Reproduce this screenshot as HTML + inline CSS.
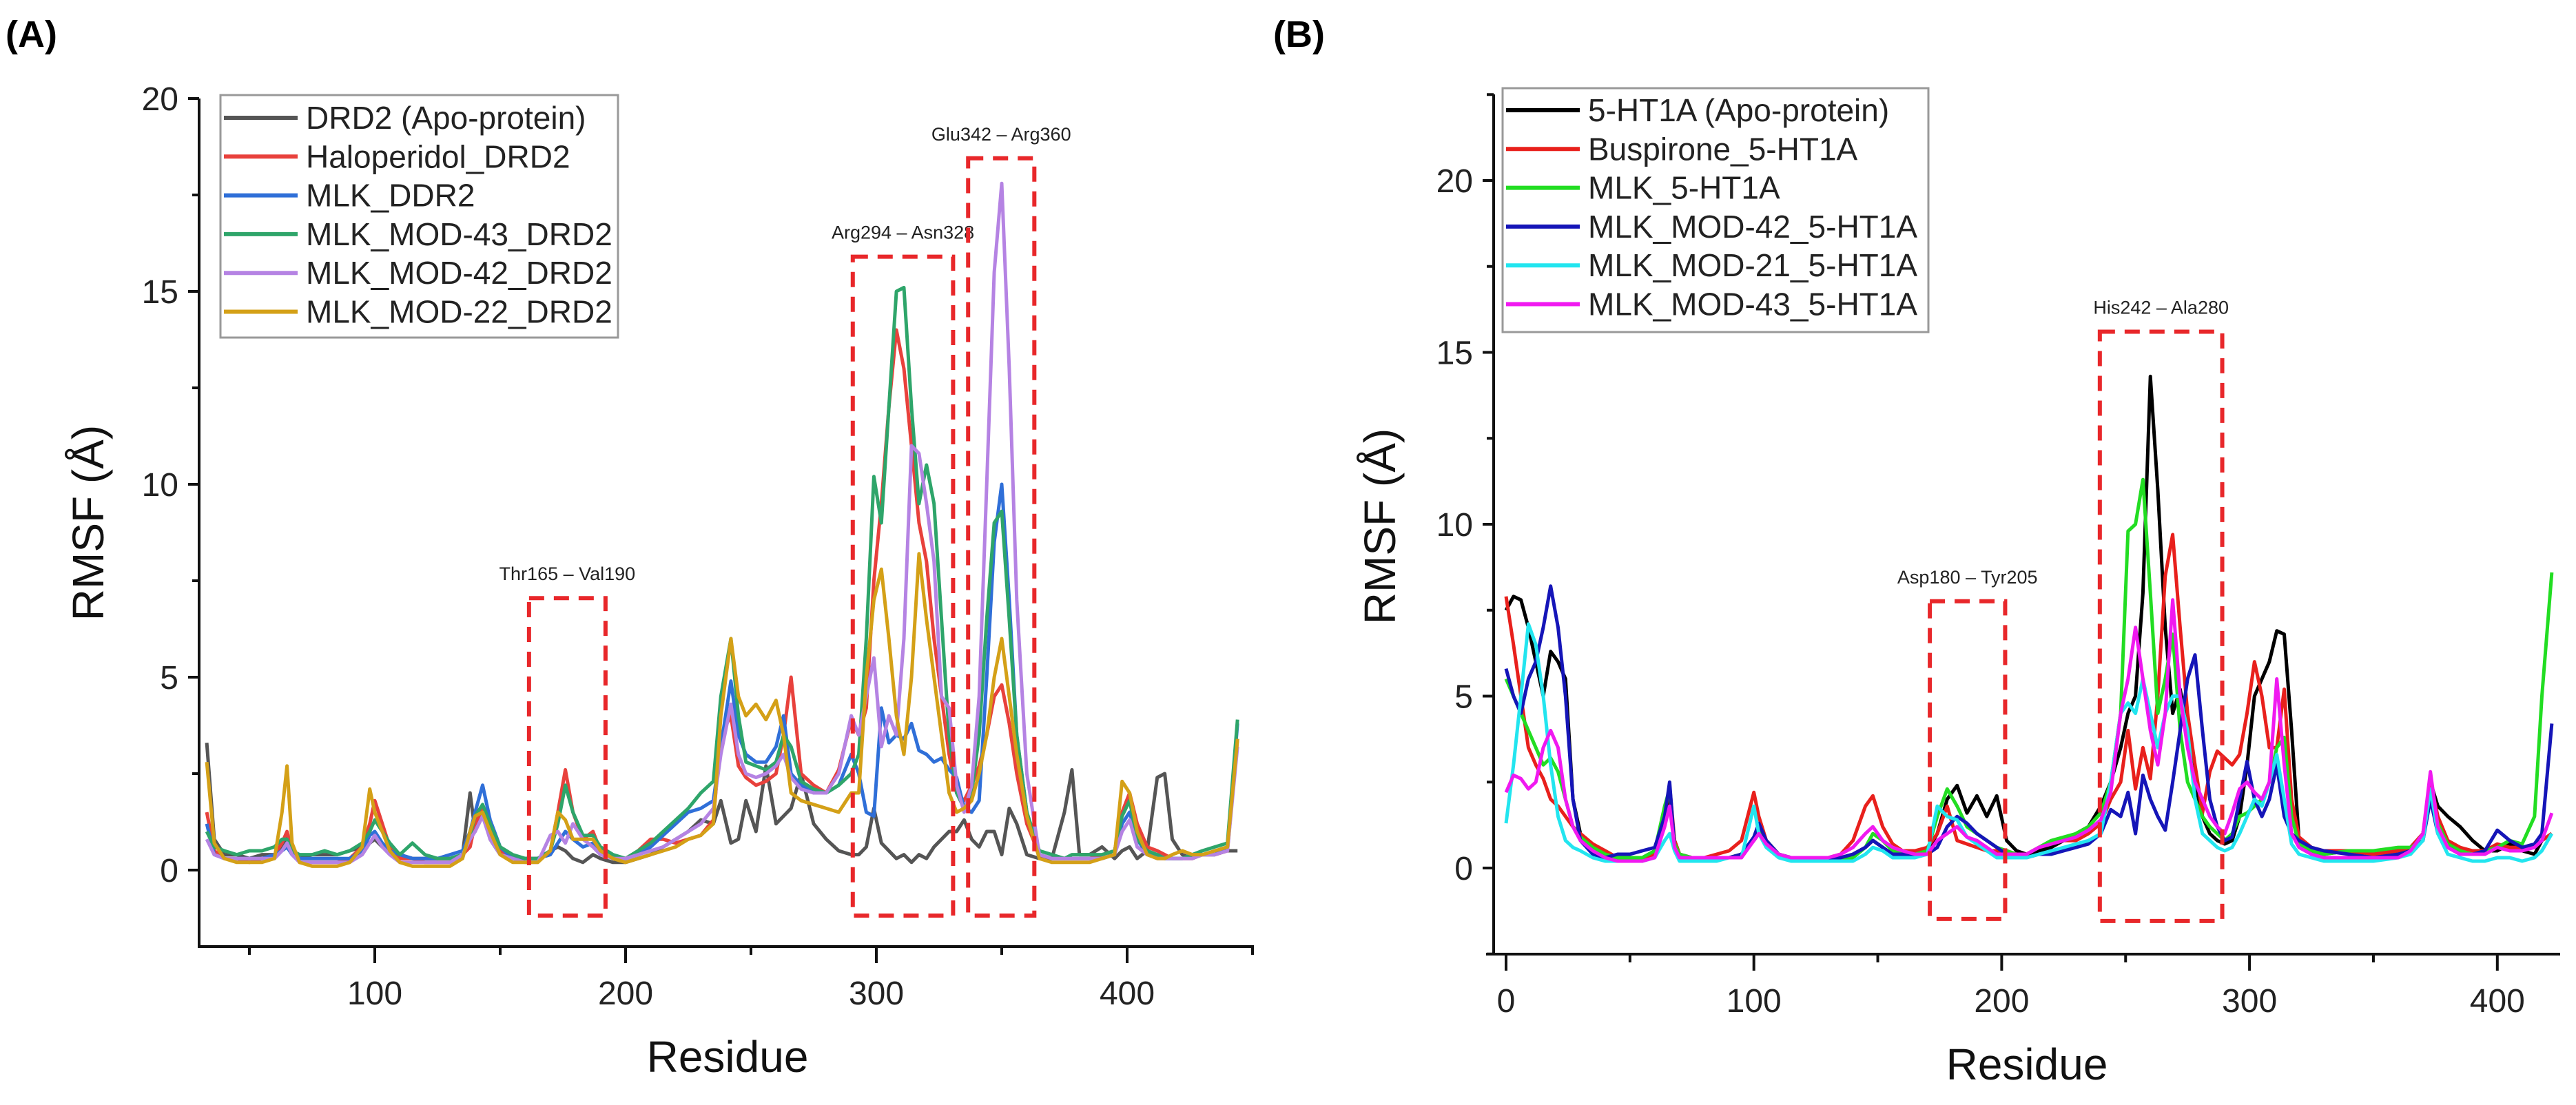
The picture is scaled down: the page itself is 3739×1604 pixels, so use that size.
<!DOCTYPE html>
<html><head><meta charset="utf-8">
<style>
html,body{margin:0;padding:0;background:#fff;}
svg{display:block;font-family:"Liberation Sans",Arial,sans-serif;}
</style></head>
<body>
<svg id="fig" width="3739" height="1604" viewBox="0 0 3739 1604" xmlns="http://www.w3.org/2000/svg">
<rect x="0" y="0" width="3739" height="1604" fill="#fff"/>
<text x="8" y="68" font-size="54" font-weight="bold">(A)</text>
<text x="1848" y="68" font-size="54" font-weight="bold">(B)</text>
<g id="chartA"></g>
<g id="chartB"></g>
</svg>
<script>
// ---------- Panel A data ----------
const resA = [33,36,40,45,50,55,60,63,65,67,70,75,80,85,90,95,98,100,103,106,110,115,120,125,130,135,138,140,143,146,150,155,160,165,170,173,176,179,183,187,190,195,200,205,210,215,220,225,230,235,238,242,245,248,252,256,260,263,266,270,275,280,285,290,293,296,299,302,305,308,311,314,317,320,323,326,329,332,335,338,341,344,347,350,353,356,360,365,370,375,378,381,385,390,395,398,401,404,408,412,415,418,422,426,430,435,440,444];
const apoDRD2 = [3.3,0.8,0.4,0.4,0.3,0.4,0.4,0.6,0.9,0.5,0.3,0.4,0.4,0.4,0.5,0.6,0.7,0.8,0.6,0.5,0.4,0.3,0.3,0.3,0.3,0.4,2.0,1.0,1.5,0.8,0.4,0.3,0.3,0.3,0.5,0.6,0.5,0.3,0.2,0.4,0.3,0.2,0.2,0.3,0.4,0.6,0.8,1.0,1.3,1.2,1.8,0.7,0.8,1.8,1.0,2.7,1.2,1.4,1.6,2.5,1.2,0.8,0.5,0.4,0.4,0.6,1.6,0.7,0.5,0.3,0.4,0.2,0.4,0.3,0.6,0.8,1.0,1.0,1.3,0.8,0.6,1.0,1.0,0.4,1.6,1.2,0.4,0.3,0.3,1.5,2.6,0.4,0.4,0.6,0.3,0.5,0.6,0.3,0.5,2.4,2.5,0.8,0.4,0.3,0.4,0.4,0.5,0.5];
const haloDRD2 = [1.5,0.5,0.3,0.3,0.2,0.3,0.4,0.7,1.0,0.5,0.2,0.2,0.2,0.2,0.3,0.6,1.2,1.8,1.2,0.6,0.3,0.3,0.2,0.2,0.2,0.4,0.6,1.2,1.6,1.0,0.5,0.3,0.3,0.3,0.5,1.5,2.6,1.5,0.8,1.0,0.5,0.3,0.3,0.5,0.8,0.8,0.7,0.8,0.9,1.3,3.5,4.0,2.7,2.4,2.2,2.3,2.5,3.5,5.0,2.5,2.2,2.0,2.6,3.9,3.5,4.2,7.5,9.5,12.0,14.0,13.0,11.0,9.0,8.0,6.0,4.5,3.0,2.0,1.8,2.2,2.7,3.5,4.5,4.8,3.8,2.5,1.2,0.4,0.3,0.3,0.3,0.3,0.3,0.4,0.5,1.5,2.0,1.2,0.6,0.5,0.4,0.3,0.3,0.3,0.4,0.4,0.5,3.4];
const mlkDRD2 = [1.2,0.4,0.3,0.3,0.3,0.3,0.4,0.5,0.6,0.4,0.3,0.3,0.3,0.3,0.3,0.5,0.9,1.0,0.7,0.5,0.4,0.3,0.3,0.3,0.4,0.5,1.0,1.5,2.2,1.3,0.6,0.3,0.3,0.3,0.4,0.7,1.0,0.8,0.6,0.7,0.5,0.3,0.3,0.4,0.6,0.9,1.2,1.5,1.6,1.8,3.2,4.9,3.5,3.0,2.8,2.8,3.2,4.0,2.5,2.2,2.0,2.0,2.2,3.0,2.5,1.5,1.4,4.2,3.3,3.5,3.4,3.8,3.1,3.0,2.8,2.9,2.6,2.4,1.6,1.5,1.8,5.0,8.5,10.0,7.0,3.5,1.5,0.4,0.3,0.3,0.3,0.3,0.3,0.3,0.4,1.2,1.5,0.8,0.4,0.4,0.3,0.3,0.3,0.4,0.4,0.4,0.6,3.8];
const mod43DRD2 = [1.0,0.6,0.5,0.4,0.5,0.5,0.6,0.8,0.8,0.5,0.4,0.4,0.5,0.4,0.5,0.7,1.0,1.3,1.0,0.7,0.4,0.7,0.4,0.3,0.3,0.4,0.9,1.4,1.7,1.2,0.6,0.4,0.3,0.3,0.5,1.2,2.2,1.5,0.9,0.9,0.6,0.4,0.3,0.5,0.7,1.0,1.3,1.6,2.0,2.3,4.5,6.0,4.0,2.8,2.7,2.6,2.8,3.5,3.2,2.3,2.1,2.0,2.2,2.5,3.0,6.0,10.2,9.0,12.0,15.0,15.1,12.0,9.5,10.5,9.5,6.5,3.5,2.0,1.6,2.0,3.5,6.5,9.0,9.3,6.5,3.5,1.5,0.5,0.4,0.3,0.4,0.4,0.4,0.4,0.5,1.4,1.8,0.8,0.5,0.4,0.3,0.3,0.3,0.4,0.5,0.6,0.7,3.9];
const mod42DRD2 = [0.8,0.4,0.3,0.3,0.3,0.3,0.3,0.5,0.7,0.4,0.2,0.2,0.2,0.2,0.2,0.4,0.7,0.9,0.6,0.4,0.2,0.2,0.2,0.2,0.2,0.4,0.8,1.0,1.4,0.8,0.4,0.3,0.2,0.2,0.9,1.0,0.7,1.2,0.8,0.6,0.4,0.3,0.3,0.4,0.5,0.6,0.8,1.0,1.2,1.6,3.0,4.3,3.0,2.5,2.4,2.5,2.7,3.0,2.4,2.1,2.0,2.0,2.5,4.0,3.5,4.5,5.5,3.2,4.0,3.5,6.0,11.0,10.8,9.5,8.0,4.5,4.2,2.2,1.5,2.2,4.5,10.0,15.5,17.8,13.0,7.0,2.5,0.4,0.3,0.3,0.3,0.3,0.3,0.3,0.4,1.0,1.3,0.6,0.4,0.3,0.3,0.3,0.3,0.3,0.4,0.4,0.5,3.2];
const mod22DRD2 = [2.8,0.7,0.3,0.2,0.2,0.2,0.3,1.5,2.7,0.7,0.2,0.1,0.1,0.1,0.2,0.6,2.1,1.5,1.0,0.5,0.2,0.1,0.1,0.1,0.1,0.3,1.0,1.4,1.5,1.0,0.4,0.2,0.2,0.2,0.5,1.5,1.3,0.8,0.8,0.8,0.5,0.3,0.2,0.3,0.4,0.5,0.6,0.8,0.9,1.2,4.0,6.0,4.5,4.0,4.3,3.9,4.4,3.5,2.0,1.8,1.7,1.6,1.5,2.0,2.0,5.0,7.0,7.8,6.0,4.0,3.0,5.0,8.2,6.5,5.0,3.5,2.0,1.5,1.6,1.8,2.5,3.5,5.0,6.0,4.5,3.0,1.4,0.3,0.2,0.2,0.2,0.2,0.2,0.3,0.4,2.3,2.0,1.0,0.4,0.3,0.3,0.4,0.5,0.4,0.4,0.5,0.6,3.4];
const namesA = ["DRD2 (Apo-protein)","Haloperidol_DRD2","MLK_DDR2","MLK_MOD-43_DRD2","MLK_MOD-42_DRD2","MLK_MOD-22_DRD2"];
const yTicksA = [0,5,10,15,20];
const xTicksA = [100,200,300,400];
const regionsA = [["Thr165 – Val190",161.5,192,-1.18,7.05],["Arg294 – Asn328",290.6,330.6,-1.18,15.9],["Glu342 – Arg360",336.6,363,-1.18,18.45]];

// ---------- Panel B data ----------
const resB = [0,3,6,9,12,15,18,21,24,27,30,35,40,45,50,55,60,64,66,68,70,75,80,85,90,95,100,102,105,110,115,120,125,130,135,140,145,148,152,156,160,165,170,174,178,182,186,190,194,198,202,206,210,215,220,225,230,235,240,244,248,251,254,257,260,263,266,269,272,275,278,281,284,287,290,293,296,299,302,305,308,311,314,317,320,325,330,340,350,360,365,370,373,376,380,385,390,395,400,405,410,415,418,422];
const apoHT1A = [7.5,7.9,7.8,7.0,6.0,5.0,6.3,6.0,5.5,2.0,1.0,0.6,0.4,0.3,0.3,0.3,0.5,1.5,2.0,0.8,0.4,0.3,0.3,0.3,0.3,0.4,0.8,1.0,0.8,0.4,0.3,0.3,0.3,0.3,0.3,0.4,0.6,0.8,0.6,0.4,0.4,0.4,0.5,1.0,2.0,2.4,1.6,2.1,1.5,2.1,0.8,0.5,0.4,0.5,0.6,0.8,1.0,1.2,1.8,2.5,3.5,4.5,5.0,8.0,14.3,11.0,7.0,4.5,5.2,4.0,2.5,1.5,1.0,0.8,0.7,0.8,1.5,3.0,5.0,5.5,6.0,6.9,6.8,4.0,0.8,0.4,0.4,0.5,0.4,0.5,0.6,1.0,2.5,1.8,1.5,1.2,0.8,0.5,0.5,0.7,0.5,0.4,0.8,1.0];
const buspHT1A = [7.9,6.5,5.0,3.5,3.0,2.6,2.0,1.8,1.5,1.2,1.0,0.7,0.5,0.3,0.2,0.2,0.4,1.5,2.4,0.8,0.4,0.3,0.3,0.4,0.5,0.8,2.2,1.5,0.8,0.4,0.3,0.3,0.3,0.3,0.4,0.8,1.8,2.1,1.2,0.7,0.5,0.5,0.6,1.0,1.8,0.8,0.7,0.6,0.5,0.5,0.5,0.4,0.4,0.6,0.7,0.8,0.8,1.0,1.3,2.0,2.5,4.0,2.3,3.5,2.6,5.0,8.5,9.7,7.0,4.5,3.0,1.6,2.8,3.4,3.2,3.0,3.3,4.5,6.0,5.0,3.5,3.5,5.2,2.0,0.9,0.6,0.5,0.5,0.4,0.5,0.6,1.0,2.5,1.5,0.8,0.6,0.5,0.5,0.7,0.6,0.6,0.6,0.8,1.0];
const mlkHT1A = [5.5,5.0,4.5,4.0,3.5,3.0,3.2,2.8,2.0,1.2,0.9,0.6,0.4,0.3,0.3,0.3,0.5,1.8,2.3,0.7,0.4,0.3,0.3,0.3,0.3,0.4,0.8,1.1,0.8,0.4,0.3,0.3,0.2,0.2,0.2,0.3,0.6,1.0,0.8,0.5,0.4,0.4,0.5,1.5,2.3,1.8,1.2,1.0,0.8,0.6,0.5,0.4,0.4,0.6,0.8,0.9,1.0,1.2,1.6,2.5,4.5,9.8,10.0,11.3,8.0,4.5,5.5,6.8,4.0,2.5,2.0,1.5,1.2,1.0,0.8,1.0,1.5,1.6,1.8,2.0,2.5,3.5,3.8,1.5,0.7,0.5,0.4,0.5,0.5,0.6,0.6,0.8,2.2,1.3,0.7,0.5,0.4,0.5,0.6,0.8,0.7,1.5,5.0,8.6];
const mod42HT1A = [5.8,5.0,4.5,5.5,6.0,7.0,8.2,7.0,5.0,2.0,0.8,0.4,0.3,0.4,0.4,0.5,0.6,1.5,2.5,0.6,0.3,0.3,0.3,0.3,0.3,0.4,0.9,1.3,0.8,0.4,0.3,0.2,0.2,0.3,0.3,0.4,0.6,0.8,0.6,0.4,0.4,0.4,0.4,0.6,1.2,1.5,1.3,1.0,0.8,0.6,0.4,0.3,0.3,0.4,0.4,0.5,0.6,0.7,1.0,1.7,1.5,2.2,1.0,2.7,2.0,1.5,1.1,2.5,4.0,5.5,6.2,4.0,2.0,1.2,0.8,0.9,2.0,3.1,2.0,1.5,2.0,3.0,1.5,1.0,0.8,0.6,0.5,0.4,0.3,0.4,0.5,0.8,2.0,1.0,0.6,0.4,0.4,0.5,1.1,0.8,0.6,0.7,1.0,4.2];
const mod21HT1A = [1.3,3.0,5.0,7.1,6.5,5.0,3.0,1.5,0.8,0.6,0.5,0.3,0.2,0.2,0.2,0.2,0.3,0.8,1.0,0.5,0.2,0.2,0.2,0.2,0.3,0.3,1.8,1.0,0.6,0.3,0.2,0.2,0.2,0.2,0.2,0.2,0.4,0.6,0.5,0.3,0.3,0.3,0.4,1.8,1.5,1.4,0.9,0.7,0.5,0.3,0.3,0.3,0.3,0.4,0.5,0.6,0.7,0.8,1.0,2.5,4.5,4.8,4.5,5.5,4.5,3.5,4.5,5.0,5.0,4.0,2.0,1.0,0.8,0.6,0.5,0.6,1.0,1.5,2.0,1.8,2.5,3.3,2.0,0.7,0.4,0.3,0.2,0.2,0.2,0.3,0.4,0.8,2.3,1.0,0.4,0.3,0.2,0.2,0.3,0.3,0.2,0.3,0.5,1.0];
const mod43HT1A = [2.2,2.7,2.6,2.3,2.5,3.5,4.0,3.5,2.0,1.2,0.8,0.5,0.3,0.2,0.2,0.2,0.3,1.2,1.8,0.6,0.3,0.3,0.3,0.3,0.3,0.3,0.8,1.0,0.7,0.4,0.3,0.3,0.3,0.3,0.4,0.6,1.0,1.2,0.8,0.6,0.5,0.4,0.4,0.8,1.0,1.2,0.9,0.8,0.6,0.4,0.4,0.4,0.4,0.6,0.7,0.8,0.9,1.1,1.4,2.2,4.5,5.5,7.0,5.5,4.0,3.0,4.5,7.8,5.0,3.5,2.5,2.0,1.5,1.2,1.0,1.6,2.3,2.5,2.2,2.0,2.5,5.5,3.0,1.0,0.6,0.4,0.3,0.3,0.3,0.3,0.5,1.0,2.8,1.2,0.6,0.4,0.4,0.4,0.6,0.5,0.5,0.6,0.8,1.6];
const namesB = ["5-HT1A (Apo-protein)","Buspirone_5-HT1A","MLK_5-HT1A","MLK_MOD-42_5-HT1A","MLK_MOD-21_5-HT1A","MLK_MOD-43_5-HT1A"];
const yTicksB = [0,5,10,15,20];
const xTicksB = [0,100,200,300,400];
const regionsB = [["Asp180 – Tyr205",171,201.4,-1.48,7.76],["His242 – Ala280",239.6,289,-1.54,15.6]];

const NS = "http://www.w3.org/2000/svg";
function mk(parent, tag, attrs){
  const e = document.createElementNS(NS, tag);
  for (const k in attrs) e.setAttribute(k, attrs[k]);
  parent.appendChild(e);
  return e;
}

function drawPanel(g, cfg){
  const X = v => cfg.x0 + cfg.sx * v;
  const Y = v => cfg.y0 - cfg.sy * v;
  cfg.series.forEach((s, i) => {
    const pts = cfg.res.map((r, j) => X(r).toFixed(1) + "," + Y(s[j]).toFixed(1)).join(" ");
    const pl = mk(g, "polyline", {points: pts, fill: "none", stroke: cfg.colors[i], "stroke-width": 5, "stroke-linejoin": "round"});
    
    
  });
  cfg.regions.forEach((r, i) => {
    const rc = mk(g, "rect", {x: X(r[1]), y: Y(r[4]), width: X(r[2]) - X(r[1]), height: Y(r[3]) - Y(r[4]), fill: "none", stroke: "#e8272a", "stroke-width": 6, "stroke-dasharray": "22 14"});
    
    
    const t = mk(g, "text", {x: (X(r[1]) + X(r[2])) / 2, y: Y(r[4]) - 26, "font-size": 27, "text-anchor": "middle", fill: "#222"});
    t.textContent = r[0];
    
    
  });
  const ax = mk(g, "path", {d: `M${cfg.axL} ${cfg.axT} V${cfg.axB} H${cfg.axR}`, fill: "none", stroke: "#111", "stroke-width": 4});
  
  
  if (cfg.bottomLeftExt) mk(g, "line", {x1: cfg.bottomLeftExt, y1: cfg.axB, x2: cfg.axL, y2: cfg.axB, stroke: "#111", "stroke-width": 4});
  for (let v = cfg.yMin; v <= cfg.yMax + 0.01; v += 2.5){
    if (v < cfg.yMinTick - 0.01) continue;
    const major = cfg.yTicks.includes(v);
    const y = Y(v);
    if (y < cfg.axT - 1 || y > cfg.axB) continue;
    mk(g, "line", {x1: cfg.axL - (major ? 16 : 10), y1: y, x2: cfg.axL, y2: y, stroke: "#111", "stroke-width": 4});
  }
  cfg.yTicks.forEach(v => {
    const t = mk(g, "text", {x: cfg.axL - 30, y: Y(v) + 17, "font-size": 48, "text-anchor": "end", fill: "#222"});
    t.textContent = v;
    
    
  });
  for (let v = cfg.xMinTick; X(v) <= cfg.axR; v += 50){
    const major = cfg.xTicks.includes(v);
    mk(g, "line", {x1: X(v), y1: cfg.axB, x2: X(v), y2: cfg.axB + (major ? 24 : 12), stroke: "#111", "stroke-width": 4});
  }
  cfg.xTicks.forEach(v => {
    const t = mk(g, "text", {x: X(v), y: cfg.axB + 84, "font-size": 48, "text-anchor": "middle", fill: "#222"});
    t.textContent = v;
    
    
  });
  const xt = mk(g, "text", {x: cfg.xTitleX, y: cfg.axB + 182, "font-size": 64, "text-anchor": "middle", fill: "#111"});
  xt.textContent = "Residue";
  
  
  const yt = mk(g, "text", {x: 0, y: 0, "font-size": 64, "text-anchor": "middle", fill: "#111", transform: `translate(${cfg.yTitleX},${cfg.yTitleY}) rotate(-90)`});
  yt.textContent = "RMSF (Å)";
  
  
  const lg = mk(g, "g", {});
  
  
  mk(lg, "rect", {x: cfg.lgX, y: cfg.lgY, width: cfg.lgW, height: cfg.lgH, fill: "#fff", stroke: "#999", "stroke-width": 3});
  cfg.names.forEach((n, i) => {
    const y = cfg.lgRow0 + 56.3 * i;
    const ent = mk(lg, "g", {});
    
    
    mk(ent, "line", {x1: cfg.lgX + 5, y1: y, x2: cfg.lgX + 112, y2: y, stroke: cfg.colors[i], "stroke-width": 6});
    const t = mk(ent, "text", {x: cfg.lgX + 124, y: y + 16, "font-size": 46, fill: "#222"});
    t.textContent = n;
  });
}

drawPanel(document.getElementById("chartA"), {
  res: resA, series: [apoDRD2, haloDRD2, mlkDRD2, mod43DRD2, mod42DRD2, mod22DRD2],
  keys: ["apo-drd2","haloperidol-drd2","mlk-drd2","mod43-drd2","mod42-drd2","mod22-drd2"],
  colors: ["#555555","#e8413c","#2f6fd8","#2ea56a","#b583e3","#d4a017"],
  names: namesA, yTicks: yTicksA, xTicks: xTicksA, regions: regionsA,
  x0: 180, sx: 3.64, y0: 1263, sy: 56,
  axL: 289, axT: 143, axB: 1374, axR: 1820,
  yMin: 0, yMax: 20, yMinTick: 0, xMinTick: 50,
  xTitleX: 1056, yTitleX: 150, yTitleY: 759,
  lgX: 320, lgY: 138, lgW: 577, lgH: 352, lgRow0: 171
});
drawPanel(document.getElementById("chartB"), {
  res: resB, series: [apoHT1A, buspHT1A, mlkHT1A, mod42HT1A, mod21HT1A, mod43HT1A],
  keys: ["apo-5ht1a","buspirone-5ht1a","mlk-5ht1a","mod42-5ht1a","mod21-5ht1a","mod43-5ht1a"],
  colors: ["#000000","#e8201c","#22dd22","#1515b8","#22e5ef","#f019f0"],
  names: namesB, yTicks: yTicksB, xTicks: xTicksB, regions: regionsB,
  x0: 2186, sx: 3.597, y0: 1260, sy: 49.9,
  axL: 2168, axT: 137, axB: 1385, axR: 3716, bottomLeftExt: 2157,
  yMin: -2.5, yMax: 22.5, yMinTick: -2.5, xMinTick: 0,
  xTitleX: 2942, yTitleX: 2025, yTitleY: 764,
  lgX: 2181, lgY: 128, lgW: 618, lgH: 354, lgRow0: 160
});
</script>
</body></html>
